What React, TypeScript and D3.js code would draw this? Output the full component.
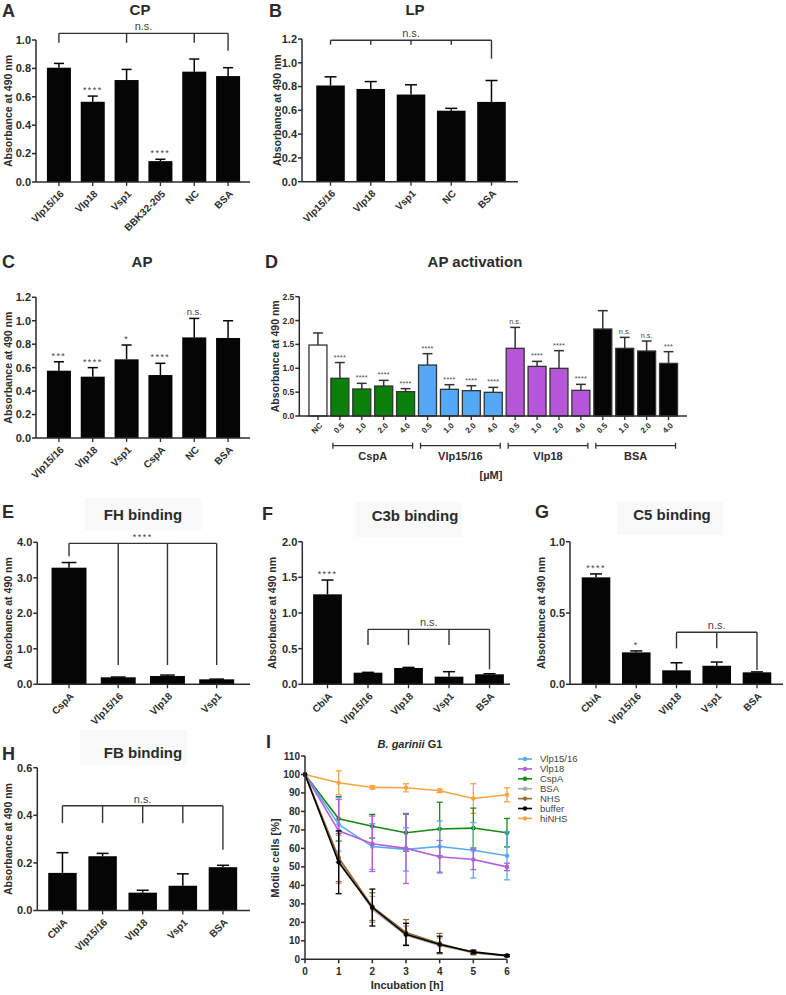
import React from "react";
import * as d3 from "d3";

// ---------------- Data ----------------
const cpCategories = ["Vlp15/16", "Vlp18", "Vsp1", "BBK32-205", "NC", "BSA"];
const cpMeans = [0.805, 0.565, 0.718, 0.147, 0.777, 0.746];
const cpErrors = [0.03, 0.04, 0.075, 0.013, 0.089, 0.059];
const cpStars = ["", "****", "", "****", "", ""];

const lpCategories = ["Vlp15/16", "Vlp18", "Vsp1", "NC", "BSA"];
const lpMeans = [0.809, 0.78, 0.733, 0.597, 0.671];
const lpErrors = [0.073, 0.062, 0.082, 0.02, 0.18];
const lpStars = ["", "", "", "", ""];

const apCategories = ["Vlp15/16", "Vlp18", "Vsp1", "CspA", "NC", "BSA"];
const apMeans = [0.574, 0.523, 0.671, 0.537, 0.858, 0.853];
const apErrors = [0.076, 0.077, 0.122, 0.1, 0.162, 0.147];
const apStars = ["***", "****", "*", "****", "n.s.", ""];

const actNcLabel = "NC";
const actNcMean = 1.487;
const actNcError = 0.253;
const actGroups = ["CspA", "Vlp15/16", "Vlp18", "BSA"];
const actConcentrations = ["0.5", "1.0", "2.0", "4.0"];
const actCspAMeans = [0.79, 0.566, 0.628, 0.51];
const actCspAErrors = [0.33, 0.118, 0.119, 0.063];
const actVlp1516Means = [1.068, 0.559, 0.531, 0.496];
const actVlp1516Errors = [0.238, 0.097, 0.104, 0.104];
const actVlp18Means = [1.418, 1.04, 0.999, 0.538];
const actVlp18Errors = [0.439, 0.105, 0.37, 0.125];
const actBsaMeans = [1.823, 1.418, 1.362, 1.103];
const actBsaErrors = [0.384, 0.23, 0.209, 0.245];
const actCspAStars = ["****", "****", "****", "****"];
const actVlp1516Stars = ["****", "****", "****", "****"];
const actVlp18Stars = ["n.s.", "****", "****", "****"];
const actBsaStars = ["", "n.s.", "n.s.", "***"];

const fhCategories = ["CspA", "Vlp15/16", "Vlp18", "Vsp1"];
const fhMeans = [3.285, 0.197, 0.234, 0.14];
const fhErrors = [0.145, 0.008, 0.026, 0.006];
const fhStars = ["", "", "", ""];

const c3bCategories = ["CbiA", "Vlp15/16", "Vlp18", "Vsp1", "BSA"];
const c3bMeans = [1.262, 0.163, 0.229, 0.107, 0.14];
const c3bErrors = [0.2, 0.005, 0.008, 0.07, 0.008];
const c3bStars = ["****", "", "", "", ""];

const c5Categories = ["CbiA", "Vlp15/16", "Vlp18", "Vsp1", "BSA"];
const c5Means = [0.75, 0.224, 0.098, 0.13, 0.084];
const c5Errors = [0.024, 0.01, 0.053, 0.026, 0.003];
const c5Stars = ["****", "*", "", "", ""];

const fbCategories = ["CbiA", "Vlp15/16", "Vlp18", "Vsp1", "BSA"];
const fbMeans = [0.158, 0.228, 0.075, 0.104, 0.182];
const fbErrors = [0.085, 0.012, 0.01, 0.05, 0.008];
const fbStars = ["", "", "", "", ""];

const hours = [0, 1, 2, 3, 4, 5, 6];
const killNames = ["Vlp15/16", "Vlp18", "CspA", "BSA", "NHS", "buffer", "hiNHS"];
const vlp1516Motile = [100, 73, 61, 59.5, 61, 59, 56];
const vlp1516Sd = [0, 14.5, 12.4, 11.7, 13.8, 15, 13];
const vlp18Motile = [100, 69.5, 62.5, 60, 55.5, 54, 50];
const vlp18Sd = [0, 17, 15, 19, 8.8, 5.5, 2];
const cspAMotile = [100, 76, 72, 68.5, 70.5, 71, 68.5];
const cspASd = [0, 12, 6.4, 10, 14.5, 10.8, 7.7];
const bsaMotile = [100, 54, 27, 13, 7.5, 3.5, 1.8];
const bsaSd = [0, 13, 7, 5, 4, 1, 0.5];
const nhsMotile = [100, 55, 28.5, 14.5, 8.5, 3.5, 2];
const nhsSd = [0, 13, 7.5, 7, 5.5, 1, 0.5];
const bufferMotile = [100, 52.5, 28, 13.5, 8, 4, 2];
const bufferSd = [0, 17, 10, 6, 4.5, 1, 0.5];
const hiNhsMotile = [100, 95.5, 93, 92.8, 91.2, 87, 89];
const hiNhsSd = [0, 6.5, 1, 2.2, 1, 8, 3.8];
const yTicksKill = [0, 10, 20, 30, 40, 50, 60, 70, 80, 90, 100, 110];

// ---------------- Styles ----------------
const FONT = "'Liberation Sans', Arial, Helvetica, sans-serif";
const INK = "#2b2b2b";
const groupColors = ["#0a7f0a", "#55a8f6", "#b557d8", "#050505"];
const killColors = ["#58aaf2", "#b45fdc", "#168816", "#a9a9a9", "#9c6a30", "#000000", "#f7a545"];

type Bar = { key: string; label: string; mean: number; err: number; star: string; fill: string };
type Drop = { i: number; to: number };
type Bracket = { y: number; text: string; drops: Drop[]; textSize?: number };
type Layout = {
  letter: string; letterX: number; letterY: number;
  title: string; titleX: number; titleY: number; titleBox?: number[];
  axisX: number; axisEnd: number; y0: number; y1: number; max: number; step: number;
  band: [number, number]; padding: number; ylabX: number;
  tickFont: number; labelFont: number; starFont: number; starSpacing: number;
  labelDx: number; labelDy: number; capRatio: number; barStroke?: string; errColor: string;
};

function makeBars(cats: string[], means: number[], errs: number[], stars: string[]): Bar[] {
  return cats.map((c, i) => ({ key: c + i, label: c, mean: means[i], err: errs[i], star: stars[i], fill: "#050505" }));
}

function BarPanel({ L, bars, brackets, children }: { L: Layout; bars: Bar[]; brackets: Bracket[]; children?: any }) {
  const x = d3.scaleBand<string>().domain(bars.map((b) => b.key)).range(L.band).paddingInner(L.padding).paddingOuter(L.padding / 2);
  const y = d3.scaleLinear().domain([0, L.max]).range([L.y0, L.y1]);
  const ticks = d3.range(0, L.max + 1e-9, L.step);
  const bw = x.bandwidth();
  const cx = (i: number) => (x(bars[i].key) as number) + bw / 2;
  const fmt = d3.format(".1f");
  return (
    <g>
      <text x={L.letterX} y={L.letterY} fontSize={18} fontWeight={700} fill={INK}>{L.letter}</text>
      {L.titleBox && <rect x={L.titleBox[0]} y={L.titleBox[1]} width={L.titleBox[2]} height={L.titleBox[3]} fill="#f9f9f9" />}
      <text x={L.titleX} y={L.titleY} fontSize={15} fontWeight={700} fill={INK} textAnchor="middle">{L.title}</text>
      {/* bars */}
      {bars.map((b, i) => (
        <g key={b.key}>
          <rect x={x(b.key)} y={y(b.mean)} width={bw} height={L.y0 - y(b.mean)} fill={b.fill}
            stroke={L.barStroke || "none"} strokeWidth={L.barStroke ? 1.3 : 0} />
          <line x1={cx(i)} x2={cx(i)} y1={y(b.mean)} y2={y(b.mean + b.err)} stroke={L.errColor} strokeWidth={1.5} />
          <line x1={cx(i) - (bw * L.capRatio) / 2} x2={cx(i) + (bw * L.capRatio) / 2} y1={y(b.mean + b.err)} y2={y(b.mean + b.err)} stroke={L.errColor} strokeWidth={1.5} />
          {b.star && (
            <text x={cx(i)} y={y(b.mean + b.err) - 3} fontSize={b.star === "n.s." ? L.starFont * 1.05 : L.starFont}
              letterSpacing={b.star === "n.s." ? 0 : L.starSpacing} textAnchor="middle" fill="#444">{b.star}</text>
          )}
        </g>
      ))}
      {/* axes */}
      <line x1={L.axisX} x2={L.axisX} y1={L.y0} y2={L.y1} stroke={INK} strokeWidth={1.5} />
      <line x1={L.axisX} x2={L.axisEnd} y1={L.y0} y2={L.y0} stroke={INK} strokeWidth={1.5} />
      {ticks.map((t) => (
        <g key={t}>
          <line x1={L.axisX - 4} x2={L.axisX} y1={y(t)} y2={y(t)} stroke={INK} strokeWidth={1.5} />
          <text x={L.axisX - 5} y={y(t)} dy="0.35em" fontSize={L.tickFont} fontWeight={700} textAnchor="end" fill={INK}>{fmt(t)}</text>
        </g>
      ))}
      {bars.map((b, i) => (
        <g key={"xt" + b.key}>
          <line x1={cx(i)} x2={cx(i)} y1={L.y0} y2={L.y0 + 4} stroke={INK} strokeWidth={1.3} />
          <text transform={`translate(${cx(i) + L.labelDx},${L.y0 + L.labelDy}) rotate(-45)`} dy="0.35em" textAnchor="end"
            fontSize={L.labelFont} fontWeight={700} fill={INK}>{b.label}</text>
        </g>
      ))}
      <text transform={`translate(${L.ylabX},${(L.y0 + L.y1) / 2}) rotate(-90)`} dy="0.35em" textAnchor="middle"
        fontSize={10.5} fontWeight={700} fill={INK}>Absorbance at 490 nm</text>
      {/* brackets */}
      {brackets.map((br, k) => {
        const xs = br.drops.map((d) => cx(d.i));
        const xmin = d3.min(xs) as number;
        const xmax = d3.max(xs) as number;
        return (
          <g key={"br" + k} stroke="#333" strokeWidth={1.4} fill="none">
            <line x1={xmin} x2={xmax} y1={y(br.y)} y2={y(br.y)} />
            {br.drops.map((d, j) => (
              <line key={j} x1={cx(d.i)} x2={cx(d.i)} y1={y(br.y)} y2={y(d.to)} />
            ))}
            <text x={(xmin + xmax) / 2} y={y(br.y) - 3} fontSize={br.textSize || 11} textAnchor="middle" fill="#444" stroke="none"
              letterSpacing={br.text.startsWith("*") ? 1.5 : 0}>{br.text}</text>
          </g>
        );
      })}
      {children && children(x, y, cx)}
    </g>
  );
}

const baseLayout = {
  tickFont: 11, labelFont: 10, starFont: 9, starSpacing: 1.4, labelDx: 3, labelDy: 10, capRatio: 0.42, errColor: "#050505",
};

const layoutA: Layout = { ...baseLayout, letter: "A", letterX: 2, letterY: 17, title: "CP", titleX: 140, titleY: 15,
  axisX: 36, axisEnd: 250, y0: 182, y1: 40, max: 1.0, step: 0.2, band: [42, 245], padding: 0.29, ylabX: 8 };
const layoutB: Layout = { ...baseLayout, letter: "B", letterX: 269, letterY: 17, title: "LP", titleX: 415, titleY: 15,
  axisX: 302, axisEnd: 518, y0: 181.7, y1: 39, max: 1.2, step: 0.2, band: [310.4, 511.6], padding: 0.29, ylabX: 277 };
const layoutC: Layout = { ...baseLayout, letter: "C", letterX: 2, letterY: 268, title: "AP", titleX: 142, titleY: 267,
  axisX: 36, axisEnd: 250, y0: 438, y1: 297.3, max: 1.2, step: 0.2, band: [42, 245], padding: 0.29, ylabX: 8 };
const layoutD: Layout = { ...baseLayout, letter: "D", letterX: 265, letterY: 268, title: "AP activation", titleX: 475, titleY: 267,
  axisX: 299.3, axisEnd: 687, y0: 416, y1: 296.7, max: 2.5, step: 0.5, band: [307, 679.5], padding: 0.18, ylabX: 275,
  tickFont: 8.5, labelFont: 8, starFont: 7, starSpacing: 0.3, labelDx: 3, labelDy: 8, capRatio: 0.55, barStroke: "#333", errColor: "#333" };
const layoutE: Layout = { ...baseLayout, letter: "E", letterX: 2, letterY: 518, title: "FH binding", titleX: 143, titleY: 520,
  titleBox: [85, 498, 117, 32],
  axisX: 37.3, axisEnd: 250, y0: 684.3, y1: 542.3, max: 4, step: 1, band: [44.4, 241.3], padding: 0.29, ylabX: 8 };
const layoutF: Layout = { ...baseLayout, letter: "F", letterX: 262, letterY: 520, title: "C3b binding", titleX: 415, titleY: 521,
  titleBox: [355, 502, 107, 35],
  axisX: 302.3, axisEnd: 510, y0: 684.3, y1: 541.7, max: 2, step: 0.5, band: [307.25, 509.75], padding: 0.29, ylabX: 272.5 };
const layoutG: Layout = { ...baseLayout, letter: "G", letterX: 535, letterY: 518, title: "C5 binding", titleX: 672, titleY: 520,
  titleBox: [617, 502, 106, 33],
  axisX: 570, axisEnd: 783, y0: 684.3, y1: 541.7, max: 1, step: 0.5, band: [575.9, 777.1], padding: 0.29, ylabX: 541 };
const layoutH: Layout = { ...baseLayout, letter: "H", letterX: 2, letterY: 760, title: "FB binding", titleX: 143, titleY: 758,
  titleBox: [80, 730, 107, 35],
  axisX: 37.3, axisEnd: 250, y0: 910.5, y1: 767.7, max: 0.6, step: 0.2, band: [42.4, 243], padding: 0.29, ylabX: 8 };

const bracketsA: Bracket[] = [{ y: 1.047, text: "n.s.", drops: [{ i: 0, to: 0.98 }, { i: 2, to: 0.98 }, { i: 4, to: 0.98 }, { i: 5, to: 0.925 }] }];
const bracketsB: Bracket[] = [{ y: 1.19, text: "n.s.", drops: [{ i: 0, to: 1.152 }, { i: 1, to: 1.152 }, { i: 2, to: 1.152 }, { i: 3, to: 1.152 }, { i: 4, to: 1.034 }] }];
const bracketsE: Bracket[] = [{ y: 3.97, text: "****", textSize: 9, drops: [{ i: 0, to: 3.61 }, { i: 1, to: 0.544 }, { i: 2, to: 0.544 }, { i: 3, to: 0.544 }] }];
const bracketsF: Bracket[] = [{ y: 0.771, text: "n.s.", drops: [{ i: 1, to: 0.551 }, { i: 2, to: 0.551 }, { i: 3, to: 0.551 }, { i: 4, to: 0.21 }] }];
const bracketsG: Bracket[] = [{ y: 0.365, text: "n.s.", drops: [{ i: 2, to: 0.252 }, { i: 3, to: 0.252 }, { i: 4, to: 0.1 }] }];
const bracketsH: Bracket[] = [{ y: 0.44, text: "n.s.", drops: [{ i: 0, to: 0.367 }, { i: 1, to: 0.367 }, { i: 2, to: 0.367 }, { i: 3, to: 0.367 }, { i: 4, to: 0.255 }] }];

function buildActivationBars(): Bar[] {
  const means = [actCspAMeans, actVlp1516Means, actVlp18Means, actBsaMeans];
  const errs = [actCspAErrors, actVlp1516Errors, actVlp18Errors, actBsaErrors];
  const stars = [actCspAStars, actVlp1516Stars, actVlp18Stars, actBsaStars];
  const bars: Bar[] = [{ key: "NC", label: actNcLabel, mean: actNcMean, err: actNcError, star: "", fill: "#ffffff" }];
  actGroups.forEach((g, gi) => {
    actConcentrations.forEach((c, ci) => {
      bars.push({ key: g + "-" + c, label: c, mean: means[gi][ci], err: errs[gi][ci], star: stars[gi][ci], fill: groupColors[gi] });
    });
  });
  return bars;
}

function ActivationExtras(x: any, y: any, cx: (i: number) => number) {
  const bracketY = 445.7;
  return (
    <g>
      {actGroups.map((g, gi) => {
        const i0 = 1 + gi * 4;
        const i1 = i0 + 3;
        const xa = cx(i0) - 7;
        const xb = cx(i1) + 7;
        return (
          <g key={g}>
            <line x1={xa} x2={xb} y1={bracketY} y2={bracketY} stroke="#333" strokeWidth={1.3} />
            <line x1={xa} x2={xa} y1={bracketY - 3} y2={bracketY + 3} stroke="#333" strokeWidth={1.3} />
            <line x1={xb} x2={xb} y1={bracketY - 3} y2={bracketY + 3} stroke="#333" strokeWidth={1.3} />
            <text x={(xa + xb) / 2} y={bracketY + 14} fontSize={11} fontWeight={700} textAnchor="middle" fill={INK}>{g}</text>
          </g>
        );
      })}
      <text x={491} y={479} fontSize={11} fontWeight={700} textAnchor="middle" fill={INK}>[µM]</text>
    </g>
  );
}

function KillingPanel() {
  const x = d3.scaleLinear().domain([0, 6]).range([305, 507]);
  const y = d3.scaleLinear().domain([0, 110]).range([959.3, 756]);
  const means = [vlp1516Motile, vlp18Motile, cspAMotile, bsaMotile, nhsMotile, bufferMotile, hiNhsMotile];
  const sds = [vlp1516Sd, vlp18Sd, cspASd, bsaSd, nhsSd, bufferSd, hiNhsSd];
  const order = [6, 2, 0, 1, 3, 4, 5];
  const line = d3.line<number>().x((_, i) => x(hours[i])).y((d) => y(d));
  return (
    <g>
      <text x={266} y={748} fontSize={18} fontWeight={700} fill={INK}>I</text>
      <text x={410} y={748} fontSize={11} fontWeight={700} textAnchor="middle" fill={INK}>
        <tspan fontStyle="italic">B. garinii</tspan> G1
      </text>
      {order.map((s) => (
        <g key={killNames[s]}>
          {means[s].map((m, i) =>
            sds[s][i] > 0 ? (
              <g key={i} stroke={killColors[s]} strokeWidth={1.3}>
                <line x1={x(hours[i])} x2={x(hours[i])} y1={y(m - sds[s][i])} y2={y(m + sds[s][i])} />
                <line x1={x(hours[i]) - 3} x2={x(hours[i]) + 3} y1={y(m - sds[s][i])} y2={y(m - sds[s][i])} />
                <line x1={x(hours[i]) - 3} x2={x(hours[i]) + 3} y1={y(m + sds[s][i])} y2={y(m + sds[s][i])} />
              </g>
            ) : null
          )}
          <path d={line(means[s]) as string} fill="none" stroke={killColors[s]} strokeWidth={1.6} />
          {means[s].map((m, i) => (
            <circle key={"c" + i} cx={x(hours[i])} cy={y(m)} r={2.3} fill={killColors[s]} />
          ))}
        </g>
      ))}
      {/* axes */}
      <line x1={305} x2={305} y1={y(0)} y2={y(110)} stroke={INK} strokeWidth={1.5} />
      <line x1={x(0)} x2={x(6)} y1={y(0)} y2={y(0)} stroke={INK} strokeWidth={1.5} />
      {yTicksKill.map((t) => (
        <g key={t}>
          <line x1={301} x2={305} y1={y(t)} y2={y(t)} stroke={INK} strokeWidth={1.5} />
          <text x={300} y={y(t)} dy="0.35em" fontSize={10} fontWeight={700} textAnchor="end" fill={INK}>{t}</text>
        </g>
      ))}
      {hours.map((h) => (
        <g key={h}>
          <line x1={x(h)} x2={x(h)} y1={y(0)} y2={y(0) + 4} stroke={INK} strokeWidth={1.5} />
          <text x={x(h)} y={975} fontSize={10} fontWeight={700} textAnchor="middle" fill={INK}>{h}</text>
        </g>
      ))}
      <text x={407} y={989} fontSize={11} fontWeight={700} textAnchor="middle" fill={INK}>Incubation [h]</text>
      <text transform={`translate(275,858) rotate(-90)`} dy="0.35em" fontSize={11} fontWeight={700} textAnchor="middle" fill={INK}>Motile cells [%]</text>
      {/* legend */}
      {killNames.map((n, i) => (
        <g key={"lg" + n}>
          <line x1={518} x2={532} y1={759 + i * 9.9} y2={759 + i * 9.9} stroke={killColors[i]} strokeWidth={1.6} />
          <circle cx={525} cy={759 + i * 9.9} r={2.2} fill={killColors[i]} />
          <text x={540} y={759 + i * 9.9} dy="0.35em" fontSize={9.5} fill="#444">{n}</text>
        </g>
      ))}
    </g>
  );
}

export default function App() {
  return (
    <svg width={786} height={995} style={{ position: "absolute", left: 0, top: 0, background: "#fff" }} fontFamily={FONT}>
      <rect width={786} height={995} fill="#fff" />
      <BarPanel L={layoutA} bars={makeBars(cpCategories, cpMeans, cpErrors, cpStars)} brackets={bracketsA} />
      <BarPanel L={layoutB} bars={makeBars(lpCategories, lpMeans, lpErrors, lpStars)} brackets={bracketsB} />
      <BarPanel L={layoutC} bars={makeBars(apCategories, apMeans, apErrors, apStars)} brackets={[]} />
      <BarPanel L={layoutD} bars={buildActivationBars()} brackets={[]}>{ActivationExtras}</BarPanel>
      <BarPanel L={layoutE} bars={makeBars(fhCategories, fhMeans, fhErrors, fhStars)} brackets={bracketsE} />
      <BarPanel L={layoutF} bars={makeBars(c3bCategories, c3bMeans, c3bErrors, c3bStars)} brackets={bracketsF} />
      <BarPanel L={layoutG} bars={makeBars(c5Categories, c5Means, c5Errors, c5Stars)} brackets={bracketsG} />
      <BarPanel L={layoutH} bars={makeBars(fbCategories, fbMeans, fbErrors, fbStars)} brackets={bracketsH} />
      <KillingPanel />
    </svg>
  );
}
